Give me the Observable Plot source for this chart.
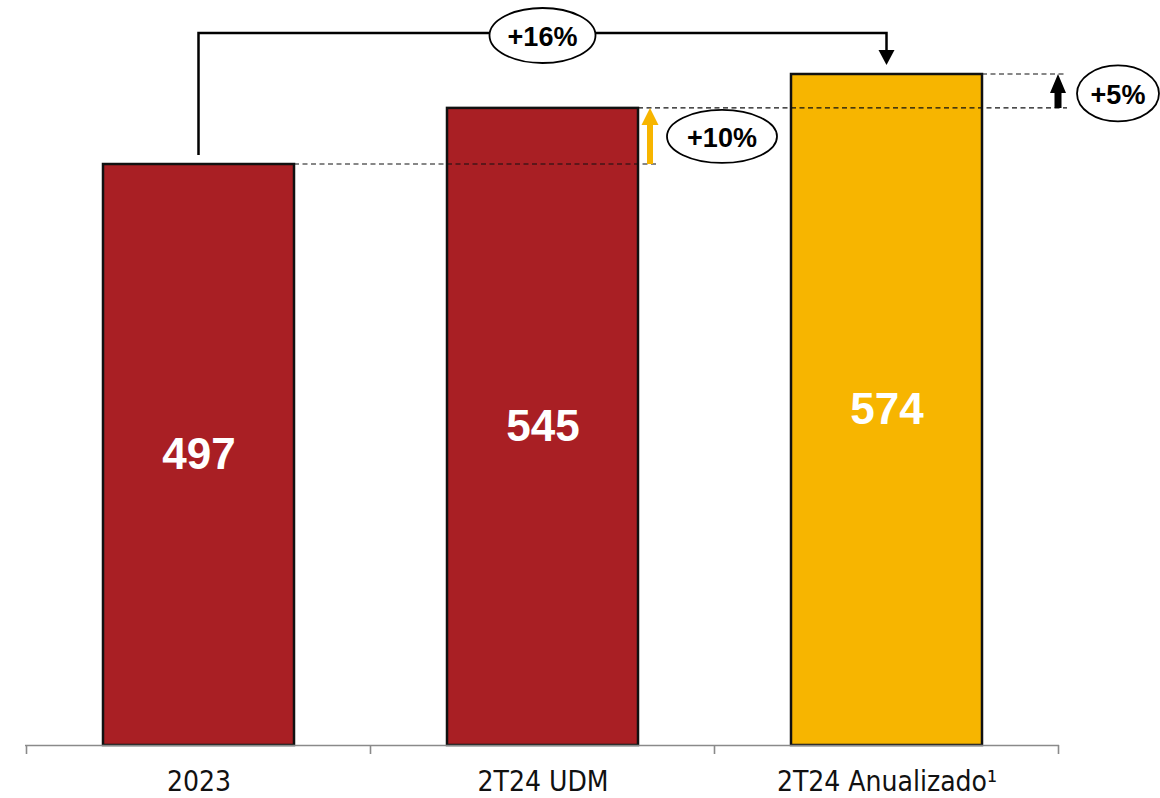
<!DOCTYPE html>
<html><head><meta charset="utf-8">
<script src="https://cdn.jsdelivr.net/npm/d3@7"></script>
<script src="https://cdn.jsdelivr.net/npm/@observablehq/plot@0.6"></script>
<style>html,body{margin:0;padding:0;background:#fff} #chart svg{display:block}</style>
</head><body><div id="chart"></div>
<script>
const categories = ["2023", "2T24 UDM", "2T24 Anualizado¹"];
const values = [497, 545, 574];
const barColors = ["#A91F24", "#A91F24", "#F7B500"];
// growth labels: 2023→UDM, UDM→Anualizado, 2023→Anualizado
const changeLabels = ["+10%", "+5%", "+16%"];

const data = categories.map((c, i) => ({category: c, value: values[i], color: barColors[i]}));

function annotations(index, scales) {
  const {x, y} = scales;
  const bw = x.bandwidth(), step = x.step();
  const gap = (step - bw) / 2;
  const g = d3.create("svg:g");
  const L = i => x(categories[i]), R = i => x(categories[i]) + bw, C = i => x(categories[i]) + bw / 2, Y = i => y(values[i]);
  const base = y(0);
  const bounds = categories.map((c, i) => L(i) - gap).concat([R(categories.length - 1) + gap]);
  g.selectAll("line.tk").data(bounds).join("line").attr("class", "tk")
    .attr("x1", d => d).attr("x2", d => d).attr("y1", base).attr("y2", base + 9)
    .attr("stroke", "#8a8a8a").attr("stroke-width", 1.6);
  const dash = (x1, x2, yy) => g.append("line").attr("x1", x1).attr("x2", x2).attr("y1", yy).attr("y2", yy)
    .attr("stroke", "#111").attr("stroke-width", 1.2).attr("stroke-dasharray", "5,3.5");
  dash(R(0), R(1) + 20, Y(0));
  dash(R(1), R(2) + 85, Y(1));
  dash(R(2), R(2) + 85, Y(2));
  const upArrow = (cx, y0, y1, shaft, head, headLen, color) => g.append("path")
    .attr("d", `M${cx - shaft / 2},${y0}V${y1 + headLen}H${cx - head / 2}L${cx},${y1}L${cx + head / 2},${y1 + headLen}H${cx + shaft / 2}V${y0}Z`)
    .attr("fill", color);
  upArrow(R(1) + 12, Y(0), Y(1), 6, 17, 17, "#F7B500");
  upArrow(R(2) + 76, Y(1), Y(2), 7, 16, 19, "#000");
  const topY = Y(2) - 41, tip = Y(2) - 9, hl = 15;
  g.append("path").attr("d", `M${C(0)},${Y(0) - 9}V${topY}H${C(2)}V${tip - hl}`)
    .attr("fill", "none").attr("stroke", "#000").attr("stroke-width", 2.5);
  g.append("path").attr("d", `M${C(2) - 8},${tip - hl}L${C(2) + 8},${tip - hl}L${C(2)},${tip}Z`).attr("fill", "#000");
  const bubble = (cx, cy, rx, ry, label) => {
    g.append("ellipse").attr("cx", cx).attr("cy", cy).attr("rx", rx).attr("ry", ry)
      .attr("fill", "#fff").attr("stroke", "#000").attr("stroke-width", 1.8);
    g.append("text").attr("x", cx).attr("y", cy + 1).attr("text-anchor", "middle").attr("dy", "0.36em")
      .attr("font-weight", "bold").attr("font-size", 27).attr("fill", "#000").text(label);
  };
  bubble((C(0) + C(2)) / 2, topY + 2.5, 53, 27.5, changeLabels[2]);
  bubble(R(1) + 84, (Y(0) + Y(1)) / 2 + 0.5, 55, 26.5, changeLabels[0]);
  bubble(R(2) + 136, (Y(1) + Y(2)) / 2 + 2.5, 41, 28, changeLabels[1]);
  return g.node();
}

const chart = Plot.plot({
  width: 1160,
  height: 798,
  marginLeft: 25,
  marginRight: 101,
  marginTop: 0,
  marginBottom: 53,
  style: {fontFamily: "'Liberation Sans', Arial, sans-serif", background: "#fff", overflow: "visible"},
  x: {domain: categories, paddingInner: 0.446, paddingOuter: 0.223, axis: null},
  y: {domain: [0, 637.3], axis: null},
  color: {type: "identity"},
  marks: [
    Plot.barY(data, {x: "category", y: "value", fill: "color", stroke: "#111", strokeWidth: 2.5}),
    annotations,
    Plot.ruleY([0], {stroke: "#8a8a8a", strokeWidth: 1.6}),
    Plot.text(data, {x: "category", y: d => d.value / 2, text: d => String(d.value), fill: "#fff", fontSize: 44, fontWeight: "bold"}),
    Plot.axisX({tickSize: 0, tickPadding: 26, fontSize: 28, label: null, color: "#111",
      fontFamily: "'DejaVu Sans Condensed', 'Liberation Sans', sans-serif"})
  ]
});
document.getElementById("chart").appendChild(chart);
</script>
</body></html>
